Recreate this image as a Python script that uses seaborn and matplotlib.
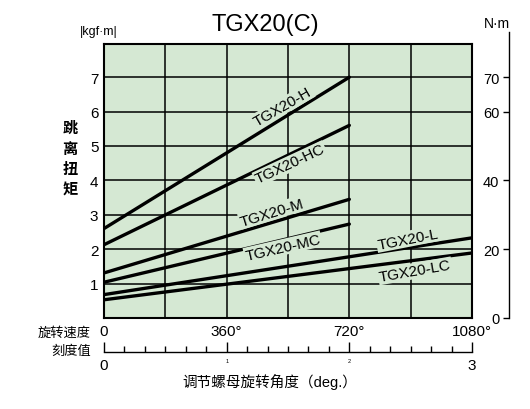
import matplotlib
matplotlib.use('Agg')
import matplotlib.pyplot as plt
import matplotlib.ticker as mticker
import seaborn as sns
import pandas as pd

# curve data (kgf·m vs nut rotation angle in degrees)
models = ['TGX20-H', 'TGX20-HC', 'TGX20-M', 'TGX20-MC', 'TGX20-L', 'TGX20-LC']
end_angle = [720, 720, 720, 720, 1080, 1080]
torque_start = [2.6, 2.13, 1.31, 1.04, 0.68, 0.53]
torque_end = [7.0, 5.6, 3.45, 2.73, 2.33, 1.89]

label_x = [525, 546, 493, 525, 892, 913]
label_y = [6.16, 4.48, 3.08, 2.06, 2.30, 1.37]
label_rot = [30, 25, 17, 13, 11, 10]

angle_ticks = [0, 180, 360, 540, 720, 900, 1080]
angle_labels = ['0', '', '360°', '', '720°', '', '1080°']
kgf_ticks = [0, 1, 2, 3, 4, 5, 6, 7]
kgf_labels = ['', '1', '2', '3', '4', '5', '6', '7']
nm_ticks = [0, 20, 40, 60, 70]
dial_ticks = [0, 1, 2, 3]

rows = []
for m, a, t0, t1 in zip(models, end_angle, torque_start, torque_end):
    rows.append({'model': m, 'angle': 0, 'torque': t0})
    rows.append({'model': m, 'angle': a, 'torque': t1})
df = pd.DataFrame(rows)

sns.set_style('white')
plt.rcParams['font.family'] = ['Liberation Sans', 'Noto Sans CJK SC']
plt.rcParams['text.color'] = 'black'
plt.rcParams['xtick.color'] = 'black'
plt.rcParams['ytick.color'] = 'black'

W, H = 530, 410
fig = plt.figure(figsize=(5.3, 4.1), dpi=100)

def fx(px):
    return px / W

def fy(py):
    return 1 - py / H

x0, x1, y0, y1 = 104, 472, 319, 45
ppu = 34.4
green = '#d5e8d3'
ax = fig.add_axes([fx(x0), fy(y0), (x1 - x0) / W, (y0 - y1) / H])
ax.set_facecolor(green)
sns.lineplot(data=df, x='angle', y='torque', hue='model', palette=['black'] * 6,
             legend=False, lw=2.4, ax=ax, zorder=3)
ax.set_xlim(0, 1080)
ax.set_ylim(0, (y0 - y1) / ppu)
ax.set_xticks(angle_ticks)
ax.set_xticklabels(angle_labels, fontsize=11)
ax.set_yticks(kgf_ticks)
ax.set_yticklabels(kgf_labels, fontsize=11)
ax.tick_params(length=0, pad=4)
ax.grid(True, color='black', lw=1.1)
ax.set_axisbelow(True)
ax.set_xlabel('')
ax.set_ylabel('')
for s in ax.spines.values():
    s.set_color('black')
    s.set_linewidth(1.5)

for m, lx, ly, r in zip(models, label_x, label_y, label_rot):
    ax.text(lx, ly, m, rotation=r, rotation_mode='anchor', ha='center', va='center',
            fontsize=11, zorder=4,
            bbox=dict(facecolor=green, edgecolor='none', pad=0.8))

# right-hand N·m scale
axr = fig.add_axes([fx(509), fy(y0), 0.0005, (y0 - 33) / H])
axr.set_ylim(0, (y0 - 33) / ppu * 10)
axr.patch.set_visible(False)
for k in ['top', 'right', 'bottom']:
    axr.spines[k].set_visible(False)
axr.spines['left'].set_linewidth(1.0)
axr.spines['left'].set_color('black')
axr.set_xticks([])
axr.set_yticks(nm_ticks)
axr.tick_params(axis='y', left=True, direction='out', length=4, width=1,
                labelsize=10.5, pad=3)

# rotation dial scale
axd = fig.add_axes([fx(x0), fy(353), (x1 - x0) / W, 0.0005])
axd.set_xlim(0, 3)
axd.patch.set_visible(False)
for k in ['top', 'right', 'left']:
    axd.spines[k].set_visible(False)
axd.spines['bottom'].set_linewidth(1.0)
axd.spines['bottom'].set_color('black')
axd.set_yticks([])
axd.set_xticks(dial_ticks)
axd.set_xticklabels(['0', '1', '2', '3'], fontsize=11)
axd.xaxis.set_minor_locator(mticker.MultipleLocator(1 / 6))
axd.tick_params(axis='x', which='both', bottom=True)
axd.tick_params(axis='x', which='major', direction='in', length=7, width=1, pad=4)
axd.tick_params(axis='x', which='minor', direction='in', length=4, width=1)
for t in axd.get_xticklabels()[1:3]:
    t.set_fontsize(4)

fig.text(fx(265), fy(25), 'TGX20(C)', fontsize=17, ha='center', va='center')
fig.text(fx(80), fy(32), '|kgf·m|', fontsize=9, ha='left', va='center')
fig.text(fx(497), fy(24), 'N·m', fontsize=10, ha='center', va='center')
for i, ch in enumerate('跳离扭矩'):
    fig.text(fx(70), fy(129 + i * 20.5), ch, fontsize=11, fontweight='bold',
             ha='center', va='center')
fig.text(fx(91), fy(333), '旋转速度', fontsize=9.5, ha='right', va='center')
fig.text(fx(91), fy(352), '刻度值', fontsize=9.5, ha='right', va='center')
fig.text(fx(270), fy(382), '调节螺母旋转角度（deg.）', fontsize=10.5, ha='center', va='center')

fig.savefig('out.png', dpi=100)
